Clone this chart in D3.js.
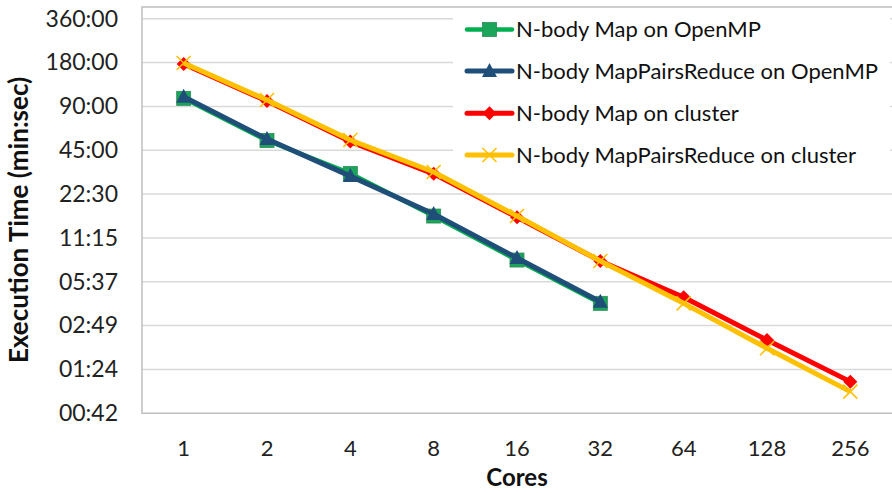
<!DOCTYPE html>
<html><head><meta charset="utf-8">
<script src="https://cdn.jsdelivr.net/npm/d3@7"></script>
<style>body{margin:0;background:#fff}svg{display:block}text{font-family:Lato,"Open Sans",sans-serif}</style>
</head><body>
<svg id="c" width="892" height="493"></svg>
<script>
const cores = ["1","2","4","8","16","32","64","128","256"];
const tickValues = [0.703125, 1.40625, 2.8125, 5.625, 11.25, 22.5, 45, 90, 180, 360];
const tickLabels = ["00:42","01:24","02:49","05:37","11:15","22:30","45:00","90:00","180:00","360:00"];
const seriesNames = ["N-body Map on OpenMP","N-body MapPairsReduce on OpenMP","N-body Map on cluster","N-body MapPairsReduce on cluster"];
// execution times in minutes
const mapOpenMP = [102.2, 52.5, 31.2, 15.9, 7.93, 4.0];
const mprOpenMP = [104.8, 53.7, 29.9, 16.4, 8.19, 4.1];
const mapCluster = [175.8, 97.9, 51.6, 31.0, 15.6, 7.81, 4.4, 2.24, 1.16];
const mprCluster = [178.6, 99.5, 52.9, 31.9, 15.9, 7.81, 4.0, 1.965, 0.99];

const svg = d3.select("#c");
const L = 142, R = 892, T = 7, B = 413.3;
const x = d3.scaleBand().domain(cores).range([L, R]);
const y = d3.scaleLog().base(2).domain([tickValues[0], tickValues[tickValues.length-1]]).range([B, 18.7]);

// gridlines
svg.append("g").selectAll("line").data(tickValues.slice(1)).join("line")
  .attr("x1", L).attr("x2", R).attr("y1", d => y(d)).attr("y2", d => y(d))
  .attr("stroke", "#D9D9D9").attr("stroke-width", 1.5);
// plot border
svg.append("path").attr("d", `M${R},${T}H${L}V${B}H${R}`).attr("fill","none")
  .attr("stroke", "#BFBFBF").attr("stroke-width", 1.5);

// y axis
const yAxis = d3.axisLeft(y).tickValues(tickValues).tickSize(0).tickPadding(0)
  .tickFormat((d, i) => tickLabels[i]);
const gy = svg.append("g").attr("transform", `translate(118,0)`).call(yAxis);
gy.select(".domain").remove();
gy.selectAll("text").attr("font-size", 23).attr("fill", "#222").attr("font-family","Lato");

// x axis
const xAxis = d3.axisBottom(x).tickSize(0).tickPadding(0);
const gx = svg.append("g").attr("transform", `translate(0,440)`).call(xAxis);
gx.select(".domain").remove();
gx.selectAll("text").attr("font-size", 22).attr("fill", "#222").attr("font-family","Lato");

// axis titles
svg.append("text").attr("x", 517).attr("y", 486).attr("text-anchor","middle")
  .attr("font-size", 24).attr("font-weight","bold").attr("fill","#111").text("Cores");
svg.append("text").attr("transform","translate(28,220) rotate(-90)").attr("text-anchor","middle")
  .attr("font-size", 26).attr("font-weight","bold").attr("fill","#111").text("Execution Time (min:sec)");

const styles = [
  {color:"#00B050", width:4.5, marker:"square", mfill:"#1AA55B"},
  {color:"#1F4E79", width:5, marker:"triangle", mfill:"#1F4E79"},
  {color:"#FF0000", width:5, marker:"diamond", mfill:"#FF0000"},
  {color:"#FFC000", width:5, marker:"x", mfill:"#FFC000"}
];
const data = [mapOpenMP, mprOpenMP, mapCluster, mprCluster];
const line = d3.line().x((d,i) => x(cores[i]) + x.bandwidth()/2).y(d => y(d));

function marker(g, type, cx, cy, st) {
  if (type === "square") {
    g.append("rect").attr("x", cx-7).attr("y", cy-7).attr("width",14).attr("height",14)
      .attr("fill", st.mfill).attr("stroke","#2E8B57").attr("stroke-width",0.8);
  } else if (type === "triangle") {
    g.append("path").attr("d", `M${cx},${cy-8}L${cx+7.5},${cy+6}L${cx-7.5},${cy+6}Z`).attr("fill", st.mfill);
  } else if (type === "diamond") {
    g.append("path").attr("d", `M${cx},${cy-7}L${cx+7},${cy}L${cx},${cy+7}L${cx-7},${cy}Z`).attr("fill", st.mfill);
  } else {
    g.append("path").attr("d", `M${cx-7},${cy-7}L${cx+7},${cy+7}M${cx+7},${cy-7}L${cx-7},${cy+7}`)
      .attr("stroke", st.mfill).attr("stroke-width", 1.6).attr("fill","none");
  }
}

const plot = svg.append("g");
data.forEach((s, k) => {
  const st = styles[k];
  const g = plot.append("g");
  g.append("path").datum(s).attr("d", line).attr("fill","none")
    .attr("stroke", st.color).attr("stroke-width", st.width).attr("stroke-linejoin","round");
  s.forEach((v, i) => marker(g, st.marker, x(cores[i]) + x.bandwidth()/2, y(v), st));
});

// legend
const lg = svg.append("g");
lg.append("rect").attr("x", 453).attr("y", 8).attr("width", 437).attr("height", 168).attr("fill","#fff");
const legY = [29.5, 71, 113.3, 155];
seriesNames.forEach((name, k) => {
  const st = styles[k];
  const g = lg.append("g");
  g.append("line").attr("x1", 467).attr("x2", 512).attr("y1", legY[k]).attr("y2", legY[k])
    .attr("stroke", st.color).attr("stroke-width", st.width).attr("stroke-linecap","round");
  marker(g, st.marker, 489.5, legY[k], st);
  g.append("text").attr("x", 516).attr("y", legY[k]).attr("dy","0.35em")
    .attr("font-size", 22).attr("fill","#111").text(name);
});
</script>
</body></html>
